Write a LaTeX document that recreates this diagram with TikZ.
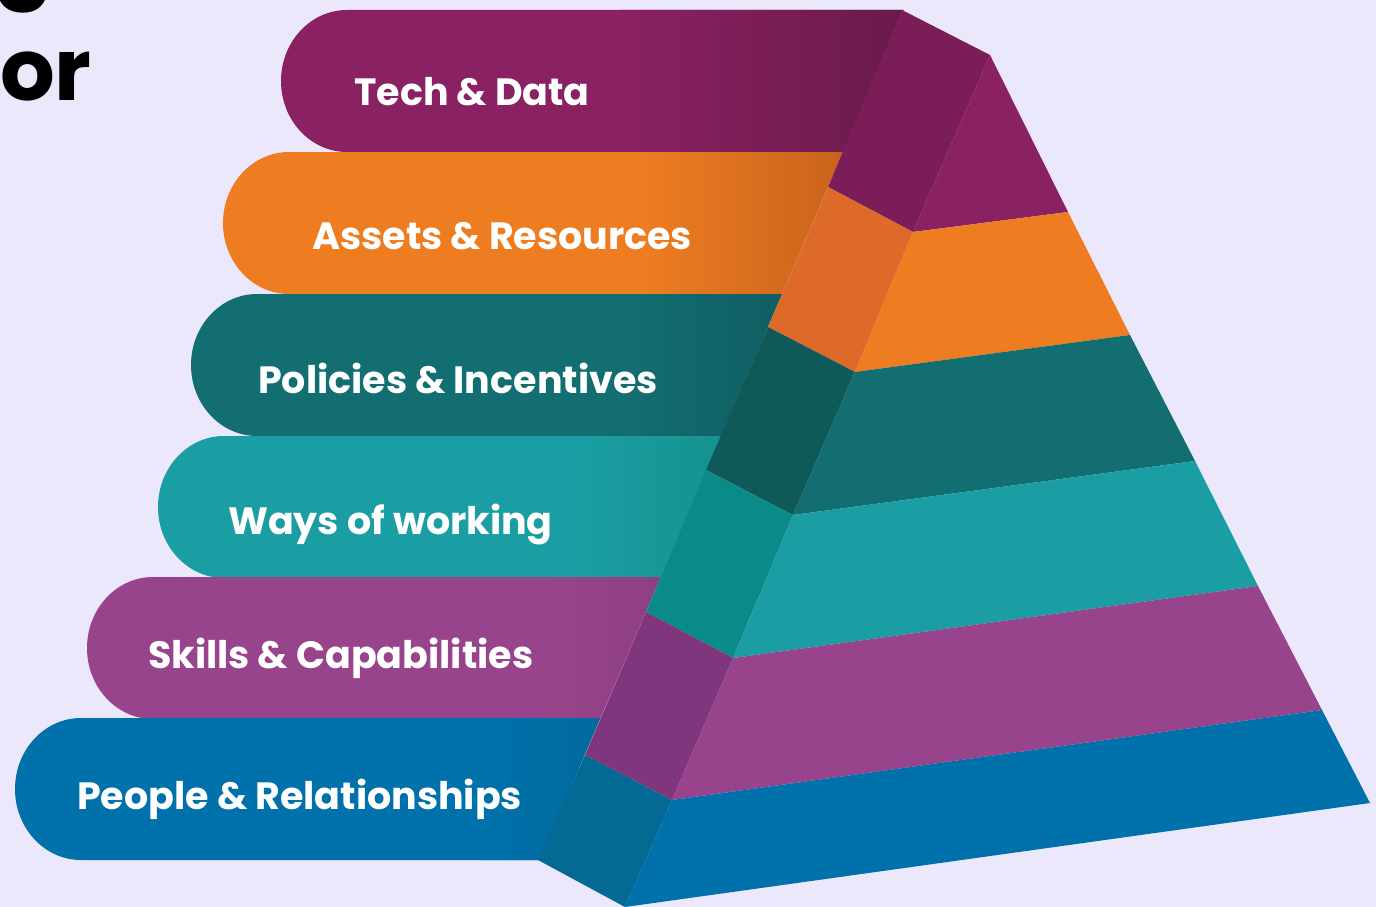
\documentclass[tikz,border=0pt]{standalone}
\usepackage{fontspec}
\newfontfamily\pop{Poppins}
\definecolor{bg}{HTML}{ECE8FC}
\definecolor{techA}{HTML}{8A2163}
\definecolor{techB}{HTML}{6A1A4A}
\definecolor{techS}{HTML}{7A1D58}
\definecolor{assA}{HTML}{EE7D22}
\definecolor{assB}{HTML}{C9631C}
\definecolor{assS}{HTML}{DD6A28}
\definecolor{polA}{HTML}{136E72}
\definecolor{polB}{HTML}{0F5E62}
\definecolor{polS}{HTML}{0F5A58}
\definecolor{wayA}{HTML}{1A9EA3}
\definecolor{wayB}{HTML}{15928F}
\definecolor{wayS}{HTML}{0A8B89}
\definecolor{skiA}{HTML}{98448C}
\definecolor{skiB}{HTML}{8E3F86}
\definecolor{skiS}{HTML}{80367C}
\definecolor{peoA}{HTML}{0071AA}
\definecolor{peoB}{HTML}{006A9E}
\definecolor{peoS}{HTML}{056A93}
\tikzset{
  lbl/.style={anchor=west, text=white, font=\pop\bfseries\fontsize{38}{40}\selectfont, inner sep=0pt},
  big/.style={anchor=base west, text=black, font=\pop\bfseries\fontsize{86}{86}\selectfont, inner sep=0pt}
}
\begin{document}
\begin{tikzpicture}[x=1pt,y=-1pt]
\fill[bg] (0,0) rectangle (1376,907);
\useasboundingbox (0,0) rectangle (1376,907);
% heading fragments
\node[big] (g) at (-6,-10) {g};
\node[big] (or) at (0,100) {or};
% bands
\foreach \top/\bot/\xl/\xa/\xb/\ca/\cb/\gs in {
  10/152/281/902/841.2/techA/techB/620,
  152/294/223/841.2/780.4/assA/assB/640,
  294/436/191/780.4/719.6/polA/polB/620,
  436/577/158/719.6/659.2/wayA/wayB/580,
  577/718/87/659.2/598.8/skiA/skiB/540,
  718/860/15/598.8/538/peoA/peoB/480}{
  \fill[\ca] (\xa+1.5,\top) -- (\xl+66,\top) arc[start angle=270,end angle=90,x radius=66,y radius=71] -- (\xb+1.5,\bot) -- cycle;
  \shade[left color=\ca, right color=\cb] (\gs,\top) -- (\xa+1.5,\top) -- (\xb+1.5,\bot) -- (\gs,\bot) -- cycle;
}
% left face strips
\fill[techS] (902,10) -- (990,55) -- (913,232) -- (828,187) -- cycle;
\fill[assS] (828,187) -- (913,232) -- (855,372) -- (768,327) -- cycle;
\fill[polS] (768,327) -- (855,372) -- (793,515) -- (706,470) -- cycle;
\fill[wayS] (706,470) -- (793,515) -- (733,658) -- (646,612) -- cycle;
\fill[skiS] (646,612) -- (733,658) -- (672,800) -- (585,755) -- cycle;
\fill[peoS] (585,755) -- (672,800) -- (625,907) -- (538,860) -- cycle;
% right faces
\fill[techA] (990,55) -- (1068,212) -- (913,232) -- cycle;
\fill[assA] (913,232) -- (1068,212) -- (1130,335) -- (855,372) -- cycle;
\fill[polA] (855,372) -- (1130,335) -- (1195,461) -- (793,515) -- cycle;
\fill[wayA] (793,515) -- (1195,461) -- (1258,586) -- (733,658) -- cycle;
\fill[skiA] (733,658) -- (1258,586) -- (1322,710) -- (672,800) -- cycle;
\fill[peoA] (672,800) -- (1322,710) -- (1370,803) -- (625,907) -- cycle;
% labels
\node[lbl] (t1) at (354,92) {Tech \& Data};
\node[lbl] (t2) at (312,236) {Assets \& Resources};
\node[lbl] (t3) at (258,378) {Policies \& Incentives};
\node[lbl] (t4) at (228,525) {Ways of working};
\node[lbl] (t5) at (148,658) {Skills \& Capabilities};
\node[lbl] (t6) at (77,799) {People \& Relationships};
\end{tikzpicture}
\end{document}
